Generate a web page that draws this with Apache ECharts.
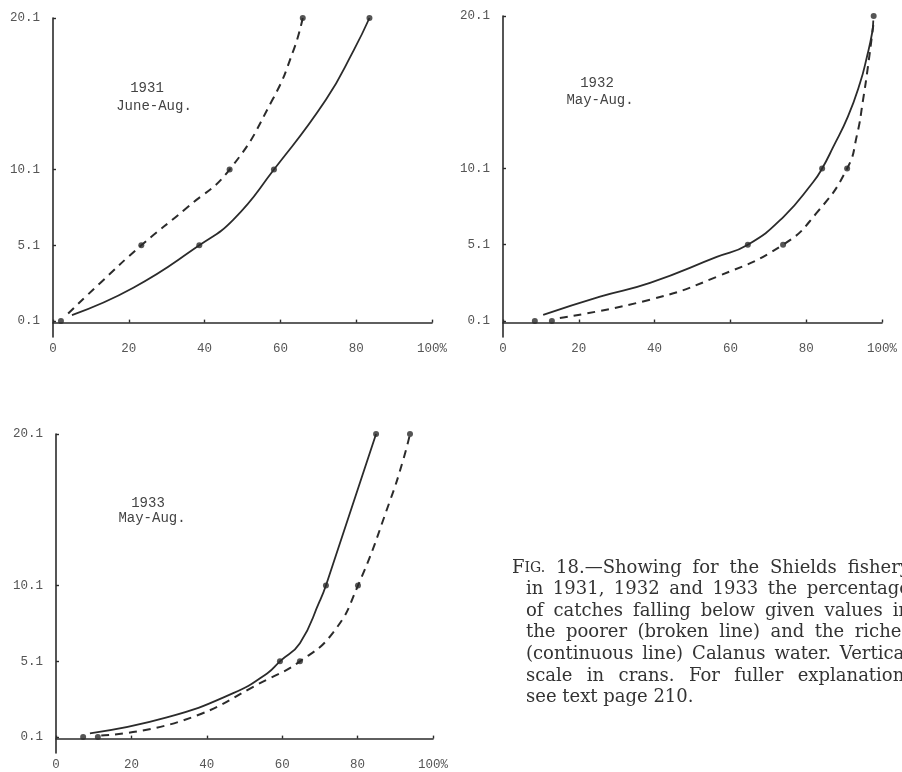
<!DOCTYPE html>
<html>
<head>
<meta charset="utf-8">
<script src="https://cdn.jsdelivr.net/npm/echarts@6/dist/echarts.min.js"></script>
<style>
html,body{margin:0;padding:0;background:#fff;}
#c{width:902px;height:772px;}
</style>
</head>
<body>
<div id="c"></div>
<script>
// ---- data ----
const yTicks = [0.1, 5.1, 10.1, 20.1];
const xTicks = [0, 20, 40, 60, 80, 100];
const panelTitles = [['1931', 'June-Aug.'], ['1932', 'May-Aug.'], ['1933', 'May-Aug.']];

// 1931 June-Aug.
const p1Solid = [[5.0,0.5],[21.2,2.3],[38.6,5.1],[47.6,6.8],[58.3,10.1],[72.0,14.7],[79.4,18.0],[83.5,20.1]];
const p1Dashed = [[4.0,0.6],[12.4,2.6],[23.3,5.1],[35.4,7.6],[46.6,10.1],[57.9,14.7],[63.5,18.0],[65.9,20.1]];
const p1SolidDots = [[2.1,0.1],[38.6,5.1],[58.3,10.1],[83.5,20.1]];
const p1DashedDots = [[23.3,5.1],[46.6,10.1],[65.9,20.1]];

// 1932 May-Aug.
const p2Solid = [[10.6,0.5],[25.6,1.7],[38.8,2.6],[56.4,4.3],[64.6,5.1],[73.9,6.9],[81.8,9.2],[84.2,10.1],[87.1,11.5],[91.0,13.5],[94.2,15.7],[96.0,17.4],[97.4,19.0],[97.7,19.8]];
const p2Dashed = [[15.0,0.3],[38.8,1.5],[56.4,3.0],[73.9,5.1],[82.8,7.2],[90.8,10.1],[93.4,12.3],[95.0,14.6],[96.3,16.8],[97.4,18.9],[97.7,19.5]];
const p2SolidDots = [[8.4,0.1],[64.6,5.1],[84.2,10.1],[97.8,20.1]];
const p2DashedDots = [[12.9,0.1],[73.9,5.1],[90.8,10.1]];

// 1933 May-Aug.
const p3Solid = [[9.0,0.35],[29.4,1.4],[47.0,3.0],[56.0,4.3],[59.4,5.1],[64.7,6.3],[70.0,9.1],[71.6,10.1],[84.9,20.1]];
const p3Dashed = [[12.0,0.2],[33.7,1.2],[56.0,3.9],[64.7,5.1],[73.5,7.0],[80.1,10.1],[88.6,15.7],[92.1,18.4],[93.9,20.1]];
const p3SolidDots = [[7.2,0.1],[59.4,5.1],[71.6,10.1],[84.9,20.1]];
const p3DashedDots = [[11.1,0.1],[64.7,5.1],[80.1,10.1],[93.9,20.1]];

const captionLines = [
  'F|IG. 18.\u2014Showing for the Shields fishery',
  'in 1931, 1932 and 1933 the percentage',
  'of catches falling below given values in',
  'the poorer (broken line) and the richer',
  '(continuous line) Calanus water.  Vertical',
  'scale in crans.  For fuller explanation,',
  'see text page 210.'
];

// ---- layout / style ----
const INK = '#2b2b2b';
const MONO = '"Liberation Mono", "DejaVu Sans Mono", monospace';
const SERIF = '"DejaVu Serif", "Liberation Serif", serif';
const grids = [
  {left: 53, top: 18, width: 379, height: 319},
  {left: 503, top: 16, width: 379, height: 321},
  {left: 56, top: 434, width: 377, height: 319}
];
const titlePos = [[147, 88, 154, 106], [597, 83, 600, 100], [148, 503, 152, 518]];

const panels = [
  [p1Solid, p1Dashed, p1SolidDots, p1DashedDots],
  [p2Solid, p2Dashed, p2SolidDots, p2DashedDots],
  [p3Solid, p3Dashed, p3SolidDots, p3DashedDots]
];

const xAxis = grids.map((g, i) => ({
  type: 'value', gridIndex: i, min: 0, max: 100,
  axisLine: {show: true, lineStyle: {color: INK, width: 1.6}},
  axisTick: {show: true, inside: true, length: 3, customValues: xTicks, lineStyle: {color: INK, width: 1.4}},
  axisLabel: {customValues: xTicks, color: '#555', fontFamily: MONO, fontSize: 12.5, margin: 5,
    formatter: v => v === 100 ? '100%' : String(v)},
  splitLine: {show: false}
}));
const yAxis = grids.map((g, i) => ({
  type: 'value', gridIndex: i, min: -0.95, max: 20.1,
  axisLine: {show: true, lineStyle: {color: INK, width: 1.6}},
  axisTick: {show: true, inside: true, length: 3, customValues: yTicks, lineStyle: {color: INK, width: 1.4}},
  axisLabel: {customValues: yTicks, color: '#555', fontFamily: MONO, fontSize: 12.5, margin: 13,
    formatter: v => v.toFixed(1)},
  splitLine: {show: false}
}));

const series = [];
panels.forEach((p, i) => {
  series.push({type: 'line', xAxisIndex: i, yAxisIndex: i, data: p[0], smooth: 0.5,
    showSymbol: false, lineStyle: {color: INK, width: 1.8}, z: 2});
  series.push({type: 'line', xAxisIndex: i, yAxisIndex: i, data: p[1], smooth: 0.5,
    showSymbol: false, lineStyle: {color: INK, width: 2, type: [8, 6]}, z: 2});
  series.push({type: 'scatter', xAxisIndex: i, yAxisIndex: i, data: p[2], symbolSize: 6,
    itemStyle: {color: INK}, z: 3});
  series.push({type: 'scatter', xAxisIndex: i, yAxisIndex: i, data: p[3], symbolSize: 6,
    itemStyle: {color: INK}, z: 3});
});

const graphic = [];
panelTitles.forEach((t, i) => {
  const pp = titlePos[i];
  graphic.push({type: 'text', x: pp[0], y: pp[1], style: {text: t[0], font: '14px ' + MONO, fill: '#444', align: 'center', verticalAlign: 'middle'}});
  graphic.push({type: 'text', x: pp[2], y: pp[3], style: {text: t[1], font: '14px ' + MONO, fill: '#444', align: 'center', verticalAlign: 'middle'}});
});

// justified caption: words placed with measured widths
const mctx = document.createElement('canvas').getContext('2d');
function tw(s, size) { mctx.font = size + 'px ' + SERIF; return mctx.measureText(s).width; }
const CAP_SIZE = 18, CAP_SMALL = 14, CAP_RIGHT = 910;
captionLines.forEach((line, i) => {
  const x0 = i === 0 ? 512 : 526;
  const y = 568 + i * 21.6;
  const words = line.split(/\s+/);
  const items = words.map(w => {
    if (w.indexOf('|') >= 0) {
      const parts = w.split('|');
      return {rich: true, a: parts[0], b: parts[1], w: tw(parts[0], CAP_SIZE) + tw(parts[1], CAP_SMALL)};
    }
    return {text: w, w: tw(w, CAP_SIZE)};
  });
  const total = items.reduce((s, it) => s + it.w, 0);
  const last = i === captionLines.length - 1;
  const gap = last ? tw(' ', CAP_SIZE) : Math.max(tw(' ', CAP_SIZE), (CAP_RIGHT - x0 - total) / (items.length - 1));
  let x = x0;
  items.forEach(it => {
    if (it.rich) {
      graphic.push({type: 'text', x: x, y: y, style: {text: '{a|' + it.a + '}{b|' + it.b + '}', fill: '#333',
        align: 'left', verticalAlign: 'middle',
        rich: {a: {fontSize: CAP_SIZE, fontFamily: SERIF, fill: '#333'}, b: {fontSize: CAP_SMALL, fontFamily: SERIF, fill: '#333'}}}});
    } else {
      graphic.push({type: 'text', x: x, y: y, style: {text: it.text, font: CAP_SIZE + 'px ' + SERIF, fill: '#333', align: 'left', verticalAlign: 'middle'}});
    }
    x += it.w + gap;
  });
});

const chart = echarts.init(document.getElementById('c'), null, {renderer: 'canvas'});
chart.setOption({
  animation: false,
  backgroundColor: '#fff',
  grid: grids,
  xAxis: xAxis,
  yAxis: yAxis,
  series: series,
  graphic: graphic
});
</script>
</body>
</html>
